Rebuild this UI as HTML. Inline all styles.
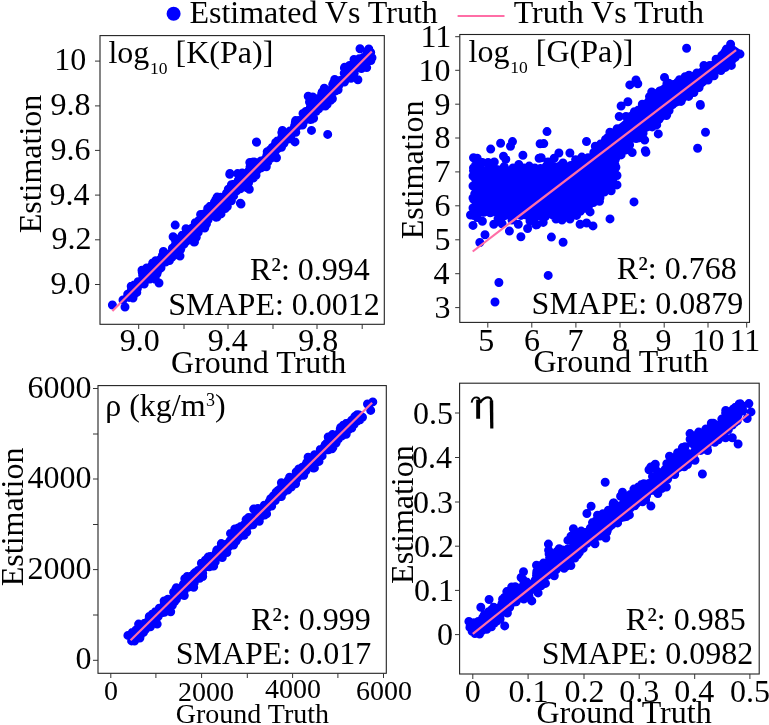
<!DOCTYPE html>
<html><head><meta charset="utf-8"><style>
html,body{margin:0;padding:0;background:#fff;overflow:hidden}
svg{display:block;will-change:transform}
text{font-family:"Liberation Serif", serif;fill:#000}
</style></head><body>
<svg width="769" height="725" viewBox="0 0 769 725">
<defs><clipPath id="ctl"><rect x="100" y="35.6" width="284.3" height="288.7"/></clipPath><clipPath id="ctr"><rect x="459.8" y="34.5" width="289.7" height="287.9"/></clipPath><clipPath id="cbl"><rect x="98" y="385.6" width="288.3" height="287.69999999999993"/></clipPath><clipPath id="cbr"><rect x="459.6" y="383.2" width="299.6" height="290.8"/></clipPath></defs>
<rect width="769" height="725" fill="#fff"/>
<circle cx="173.6" cy="13.8" r="7" fill="#0000ff"/>
<text x="189.45" y="22.60" font-size="32">Estimated Vs Truth</text>
<line x1="457.60" y1="15.90" x2="504.50" y2="15.90" stroke="#ff6ea6" stroke-width="2"/>
<text x="513.70" y="22.90" font-size="32">Truth Vs Truth</text>
<rect x="100.00" y="35.60" width="284.30" height="288.70" fill="none" stroke="#222" stroke-width="1.1"/>
<line x1="138.70" y1="324.30" x2="138.70" y2="329.00" stroke="#333" stroke-width="1"/>
<line x1="184.00" y1="324.30" x2="184.00" y2="329.00" stroke="#333" stroke-width="1"/>
<line x1="228.00" y1="324.30" x2="228.00" y2="329.00" stroke="#333" stroke-width="1"/>
<line x1="273.00" y1="324.30" x2="273.00" y2="329.00" stroke="#333" stroke-width="1"/>
<line x1="317.00" y1="324.30" x2="317.00" y2="329.00" stroke="#333" stroke-width="1"/>
<line x1="362.20" y1="324.30" x2="362.20" y2="329.00" stroke="#333" stroke-width="1"/>
<line x1="95.00" y1="61.10" x2="100.00" y2="61.10" stroke="#333" stroke-width="1"/>
<line x1="95.00" y1="105.90" x2="100.00" y2="105.90" stroke="#333" stroke-width="1"/>
<line x1="95.00" y1="150.40" x2="100.00" y2="150.40" stroke="#333" stroke-width="1"/>
<line x1="95.00" y1="195.10" x2="100.00" y2="195.10" stroke="#333" stroke-width="1"/>
<line x1="95.00" y1="239.80" x2="100.00" y2="239.80" stroke="#333" stroke-width="1"/>
<line x1="95.00" y1="284.50" x2="100.00" y2="284.50" stroke="#333" stroke-width="1"/>
<text x="54.30" y="70.00" font-size="32">10</text>
<text x="50.40" y="115.40" font-size="32">9.8</text>
<text x="50.40" y="159.90" font-size="32">9.6</text>
<text x="49.40" y="204.60" font-size="32">9.4</text>
<text x="51.40" y="249.30" font-size="32">9.2</text>
<text x="50.40" y="294.00" font-size="32">9.0</text>
<text x="119.65" y="351.00" font-size="32">9.0</text>
<text x="207.80" y="351.00" font-size="32">9.4</text>
<text x="298.30" y="351.00" font-size="32">9.8</text>
<text x="171.10" y="372.70" font-size="32">Ground Truth</text>
<text x="0" y="0" font-size="32" transform="translate(40.90,233.35) rotate(-90)">Estimation</text>
<rect x="459.80" y="34.50" width="289.70" height="287.90" fill="none" stroke="#222" stroke-width="1.1"/>
<line x1="487.80" y1="322.40" x2="487.80" y2="327.60" stroke="#333" stroke-width="1"/>
<line x1="531.80" y1="322.40" x2="531.80" y2="327.60" stroke="#333" stroke-width="1"/>
<line x1="575.90" y1="322.40" x2="575.90" y2="327.60" stroke="#333" stroke-width="1"/>
<line x1="620.00" y1="322.40" x2="620.00" y2="327.60" stroke="#333" stroke-width="1"/>
<line x1="664.20" y1="322.40" x2="664.20" y2="327.60" stroke="#333" stroke-width="1"/>
<line x1="708.00" y1="322.40" x2="708.00" y2="327.60" stroke="#333" stroke-width="1"/>
<line x1="746.70" y1="322.40" x2="746.70" y2="327.60" stroke="#333" stroke-width="1"/>
<line x1="455.20" y1="36.70" x2="459.80" y2="36.70" stroke="#333" stroke-width="1"/>
<line x1="455.20" y1="70.30" x2="459.80" y2="70.30" stroke="#333" stroke-width="1"/>
<line x1="455.20" y1="104.20" x2="459.80" y2="104.20" stroke="#333" stroke-width="1"/>
<line x1="455.20" y1="138.00" x2="459.80" y2="138.00" stroke="#333" stroke-width="1"/>
<line x1="455.20" y1="171.90" x2="459.80" y2="171.90" stroke="#333" stroke-width="1"/>
<line x1="455.20" y1="205.80" x2="459.80" y2="205.80" stroke="#333" stroke-width="1"/>
<line x1="455.20" y1="239.80" x2="459.80" y2="239.80" stroke="#333" stroke-width="1"/>
<line x1="455.20" y1="273.70" x2="459.80" y2="273.70" stroke="#333" stroke-width="1"/>
<line x1="455.20" y1="307.60" x2="459.80" y2="307.60" stroke="#333" stroke-width="1"/>
<text x="420.50" y="47.10" font-size="32">11</text>
<text x="418.50" y="80.70" font-size="32">10</text>
<text x="434.50" y="114.60" font-size="32">9</text>
<text x="434.50" y="148.40" font-size="32">8</text>
<text x="434.50" y="182.30" font-size="32">7</text>
<text x="434.50" y="216.20" font-size="32">6</text>
<text x="434.50" y="250.20" font-size="32">5</text>
<text x="433.50" y="284.10" font-size="32">4</text>
<text x="434.50" y="318.00" font-size="32">3</text>
<text x="478.30" y="351.00" font-size="32">5</text>
<text x="523.90" y="351.00" font-size="32">6</text>
<text x="567.40" y="351.00" font-size="32">7</text>
<text x="612.00" y="351.00" font-size="32">8</text>
<text x="655.50" y="351.00" font-size="32">9</text>
<text x="692.50" y="351.00" font-size="32">10</text>
<text x="729.50" y="351.00" font-size="32">11</text>
<text x="533.45" y="372.20" font-size="32">Ground Truth</text>
<text x="0" y="0" font-size="32" transform="translate(422.60,239.25) rotate(-90)">Estimation</text>
<rect x="98.00" y="385.60" width="288.30" height="287.70" fill="none" stroke="#222" stroke-width="1.1"/>
<line x1="110.80" y1="673.30" x2="110.80" y2="678.00" stroke="#333" stroke-width="1"/>
<line x1="155.90" y1="673.30" x2="155.90" y2="678.00" stroke="#333" stroke-width="1"/>
<line x1="201.60" y1="673.30" x2="201.60" y2="678.00" stroke="#333" stroke-width="1"/>
<line x1="247.30" y1="673.30" x2="247.30" y2="678.00" stroke="#333" stroke-width="1"/>
<line x1="292.60" y1="673.30" x2="292.60" y2="678.00" stroke="#333" stroke-width="1"/>
<line x1="337.90" y1="673.30" x2="337.90" y2="678.00" stroke="#333" stroke-width="1"/>
<line x1="383.50" y1="673.30" x2="383.50" y2="678.00" stroke="#333" stroke-width="1"/>
<line x1="93.00" y1="388.50" x2="98.00" y2="388.50" stroke="#333" stroke-width="1"/>
<line x1="93.00" y1="434.00" x2="98.00" y2="434.00" stroke="#333" stroke-width="1"/>
<line x1="93.00" y1="479.00" x2="98.00" y2="479.00" stroke="#333" stroke-width="1"/>
<line x1="93.00" y1="524.50" x2="98.00" y2="524.50" stroke="#333" stroke-width="1"/>
<line x1="93.00" y1="569.60" x2="98.00" y2="569.60" stroke="#333" stroke-width="1"/>
<line x1="93.00" y1="615.00" x2="98.00" y2="615.00" stroke="#333" stroke-width="1"/>
<line x1="93.00" y1="660.30" x2="98.00" y2="660.30" stroke="#333" stroke-width="1"/>
<text x="27.40" y="397.50" font-size="32">6000</text>
<text x="27.40" y="488.00" font-size="32">4000</text>
<text x="27.40" y="578.60" font-size="32">2000</text>
<text x="75.40" y="669.30" font-size="32">0</text>
<text x="104.00" y="699.80" font-size="28">0</text>
<text x="177.90" y="701.00" font-size="28">2000</text>
<text x="265.00" y="698.30" font-size="28">4000</text>
<text x="356.00" y="699.80" font-size="28">6000</text>
<text x="175.75" y="723.00" font-size="28">Ground Truth</text>
<text x="0" y="0" font-size="32" transform="translate(23.40,586.25) rotate(-90)">Estimation</text>
<rect x="459.60" y="383.20" width="299.60" height="290.80" fill="none" stroke="#222" stroke-width="1.1"/>
<line x1="472.80" y1="674.00" x2="472.80" y2="679.00" stroke="#333" stroke-width="1"/>
<line x1="528.10" y1="674.00" x2="528.10" y2="679.00" stroke="#333" stroke-width="1"/>
<line x1="584.00" y1="674.00" x2="584.00" y2="679.00" stroke="#333" stroke-width="1"/>
<line x1="639.20" y1="674.00" x2="639.20" y2="679.00" stroke="#333" stroke-width="1"/>
<line x1="694.70" y1="674.00" x2="694.70" y2="679.00" stroke="#333" stroke-width="1"/>
<line x1="749.90" y1="674.00" x2="749.90" y2="679.00" stroke="#333" stroke-width="1"/>
<line x1="455.00" y1="413.00" x2="459.60" y2="413.00" stroke="#333" stroke-width="1"/>
<line x1="455.00" y1="457.50" x2="459.60" y2="457.50" stroke="#333" stroke-width="1"/>
<line x1="455.00" y1="502.00" x2="459.60" y2="502.00" stroke="#333" stroke-width="1"/>
<line x1="455.00" y1="546.20" x2="459.60" y2="546.20" stroke="#333" stroke-width="1"/>
<line x1="455.00" y1="590.40" x2="459.60" y2="590.40" stroke="#333" stroke-width="1"/>
<line x1="455.00" y1="634.60" x2="459.60" y2="634.60" stroke="#333" stroke-width="1"/>
<text x="413.00" y="423.50" font-size="32">0.5</text>
<text x="412.00" y="468.00" font-size="32">0.4</text>
<text x="413.00" y="512.50" font-size="32">0.3</text>
<text x="414.00" y="556.70" font-size="32">0.2</text>
<text x="414.00" y="600.90" font-size="32">0.1</text>
<text x="437.00" y="645.10" font-size="32">0</text>
<text x="464.80" y="701.50" font-size="32">0</text>
<text x="508.60" y="701.50" font-size="32">0.1</text>
<text x="564.50" y="701.50" font-size="32">0.2</text>
<text x="619.20" y="701.50" font-size="32">0.3</text>
<text x="674.20" y="701.50" font-size="32">0.4</text>
<text x="729.90" y="701.50" font-size="32">0.5</text>
<text x="536.50" y="722.90" font-size="32">Ground Truth</text>
<text x="0" y="0" font-size="32" transform="translate(413.10,583.90) rotate(-90)">Estimation</text>
<g clip-path="url(#ctr)"><path d="M474.0,214.0 L474.0,200.0 L474.0,188.0 L474.0,178.0 L474.0,170.0 L490.0,170.0 L505.0,171.0 L520.0,171.0 L535.0,169.0 L550.0,167.0 L565.0,166.0 L580.0,163.0 L590.0,157.0 L598.7,148.0 L604.9,140.0 L609.9,133.0 L617.3,128.0 L624.8,122.1 L627.9,115.3 L639.7,108.5 L652.1,93.6 L659.5,89.2 L669.5,82.4 L675.7,81.8 L689.9,74.7 L696.5,73.1 L704.2,67.0 L716.3,60.9 L724.1,48.8 L731.2,46.0 L738.4,51.0 L736.2,58.2 L730.7,66.4 L720.8,69.2 L714.1,74.7 L703.1,84.7 L693.2,91.8 L681.0,99.0 L681.9,102.3 L673.2,106.0 L666.4,115.3 L651.5,127.7 L644.0,130.8 L637.2,135.8 L633.5,139.5 L624.8,149.4 L617.0,160.0 L614.0,175.0 L610.0,186.0 L600.0,197.0 L590.0,206.0 L580.0,212.0 L565.0,214.0 L550.0,215.0 L535.0,216.0 L520.0,216.0 L505.0,215.0 L490.0,214.0 Z" fill="#0000ff" stroke="#0000ff" stroke-width="4" stroke-linejoin="round"/></g>
<g clip-path="url(#ctl)"><path d="M243.8 176.8h0M354.0 59.4h0M155.4 279.2h0M356.9 63.3h0M193.7 230.5h0M220.6 199.5h0M325.3 94.4h0M218.4 204.7h0M257.1 170.5h0M310.8 118.4h0M256.0 175.3h0M195.3 222.8h0M317.4 106.8h0M192.2 233.5h0M230.6 193.9h0M150.0 279.1h0M216.3 205.7h0M162.4 255.4h0M178.0 240.5h0M310.4 119.6h0M182.2 235.3h0M239.9 186.7h0M370.9 60.6h0M364.5 64.1h0M302.5 125.0h0M252.8 170.6h0M186.4 241.3h0M157.3 272.5h0M364.6 59.9h0M242.2 173.0h0M275.6 150.7h0M312.9 108.5h0M271.2 151.8h0M344.7 67.3h0M253.5 177.9h0M229.2 189.5h0M281.5 147.3h0M334.8 91.0h0M266.4 157.3h0M173.1 236.7h0M331.9 94.7h0M248.6 182.8h0M242.2 175.7h0M309.5 117.4h0M151.3 273.1h0M325.1 98.4h0M289.4 133.5h0M316.9 107.1h0M161.5 260.7h0M319.7 102.0h0M160.2 259.5h0M134.5 290.7h0M335.8 90.7h0M338.1 89.8h0M338.5 82.3h0M234.9 188.6h0M182.3 238.7h0M278.8 142.3h0M295.6 120.6h0M328.7 93.7h0M183.9 236.3h0M170.8 257.7h0M280.5 147.4h0M321.9 102.7h0M365.0 63.5h0M150.0 270.5h0M240.3 188.7h0M344.3 78.7h0M227.3 206.5h0M267.7 160.4h0M287.8 137.0h0M351.4 73.0h0M330.7 100.2h0M341.9 81.0h0M281.6 137.6h0M174.7 245.9h0M313.2 113.0h0M168.6 257.3h0M330.5 97.8h0M325.2 95.5h0M152.0 265.3h0M210.8 214.8h0M198.2 232.4h0M291.3 131.2h0M157.2 263.2h0M221.0 213.9h0M180.2 242.6h0M217.1 197.1h0M138.1 281.8h0M275.5 145.5h0M210.2 211.4h0M298.3 120.5h0M284.0 143.3h0M226.1 200.9h0M336.5 85.1h0M277.8 148.4h0M322.0 100.2h0M205.1 226.4h0M251.8 168.3h0M161.5 258.3h0M370.7 52.4h0M175.1 247.5h0M175.6 240.9h0M181.6 246.4h0M312.3 114.9h0M295.8 132.2h0M146.7 278.5h0M212.1 215.5h0M221.5 201.7h0M286.3 139.8h0M233.7 195.8h0M267.8 162.1h0M327.6 90.5h0M301.0 122.6h0M207.6 216.8h0M228.7 194.6h0M208.0 215.8h0M163.5 256.7h0M184.8 236.2h0M195.1 230.7h0M195.4 231.5h0M264.3 163.7h0M367.1 61.5h0M310.4 107.0h0M319.6 107.6h0M313.6 118.3h0M269.0 157.9h0M352.1 74.5h0M290.6 131.3h0M244.1 183.0h0M131.3 289.9h0M238.3 183.4h0M164.9 253.1h0M142.2 272.0h0M237.6 173.6h0M313.2 104.4h0M191.4 236.9h0M312.7 112.4h0M248.2 174.1h0M146.7 267.9h0M361.3 59.2h0M214.0 204.2h0M189.4 234.8h0M330.9 90.0h0M143.2 277.2h0M303.7 121.6h0M159.5 260.6h0M211.9 206.9h0M172.9 251.2h0M328.5 90.5h0M210.1 206.3h0M365.1 57.9h0M274.6 148.7h0M293.0 131.7h0M249.0 177.0h0M192.2 230.5h0M215.9 209.2h0M357.1 67.5h0M166.2 260.4h0M372.0 57.8h0M311.1 116.2h0M205.0 216.9h0M281.3 147.0h0M212.6 213.5h0M207.9 208.5h0M240.7 177.9h0M241.9 184.4h0M363.2 57.6h0M187.8 238.3h0M303.0 113.4h0M228.5 197.3h0M166.5 256.5h0M344.2 73.2h0M192.9 234.0h0M368.8 49.0h0M182.1 244.7h0M332.1 90.2h0M270.1 154.5h0M321.7 102.0h0M275.6 147.1h0M206.6 217.0h0M311.9 115.7h0M226.5 193.2h0M207.3 213.0h0M233.4 184.5h0M142.6 274.9h0M173.0 256.1h0M255.5 162.4h0M210.2 207.6h0M318.9 106.7h0M267.2 151.8h0M332.7 84.4h0M303.5 122.1h0M271.4 157.8h0M187.8 237.1h0M309.5 102.0h0M177.1 245.3h0M134.5 294.1h0M362.7 61.7h0M254.6 173.0h0M314.0 111.0h0M249.5 173.5h0M276.5 157.7h0M160.1 261.8h0M284.4 132.9h0M260.8 163.4h0M154.3 270.7h0M357.0 61.6h0M155.1 273.6h0M247.4 181.2h0M152.7 276.6h0M298.8 125.2h0M183.2 238.5h0M147.4 276.4h0M156.6 264.5h0M160.4 259.5h0M250.6 170.6h0M231.1 195.7h0M361.3 63.2h0M357.3 60.8h0M321.2 106.5h0M287.1 137.3h0M332.5 92.6h0M356.3 67.8h0M208.1 219.8h0M270.8 158.3h0M174.5 238.0h0M179.0 240.4h0M188.7 237.7h0M304.7 118.8h0M279.7 140.7h0M270.5 154.3h0M222.5 198.2h0M291.4 134.5h0M153.7 271.2h0M212.6 211.1h0M169.5 255.8h0M225.2 208.6h0M232.5 190.7h0M341.3 80.9h0M193.5 227.8h0M328.8 98.7h0M127.7 294.2h0M361.8 60.6h0M311.6 119.3h0M204.7 228.0h0M145.7 275.7h0M214.7 212.7h0M198.3 220.9h0M334.7 79.5h0M222.3 203.6h0M135.1 291.2h0M352.8 70.5h0M272.4 148.1h0M144.2 284.0h0M230.6 187.4h0M134.2 285.0h0M274.9 145.7h0M273.4 152.2h0M319.9 99.5h0M314.7 105.0h0M352.4 76.0h0M281.8 132.6h0M292.8 131.8h0M154.1 267.7h0M130.5 295.1h0M361.8 59.9h0M277.4 141.0h0M359.7 67.0h0M206.5 223.8h0M309.3 116.0h0M158.3 270.6h0M185.9 240.7h0M255.4 168.5h0M257.1 166.5h0M239.1 178.8h0M224.7 203.0h0M261.0 160.9h0M364.2 61.2h0M228.3 189.2h0M324.3 88.3h0M211.8 210.3h0M254.2 162.0h0M274.4 151.2h0M180.6 249.5h0M218.7 210.1h0M361.4 68.6h0M282.7 144.6h0M264.6 159.7h0M164.8 253.7h0M146.7 273.8h0M366.6 54.7h0M208.2 217.0h0M129.1 297.4h0M278.3 144.8h0M129.9 293.0h0M132.6 289.7h0M182.1 239.7h0M262.2 161.7h0M325.4 106.1h0M184.1 244.0h0M187.6 239.3h0M322.7 93.4h0M306.8 118.3h0M143.9 276.7h0M318.5 98.6h0M327.3 94.6h0M159.4 265.7h0M275.7 148.9h0M165.6 262.1h0M174.9 247.2h0M238.2 180.4h0M246.7 174.3h0M235.0 185.1h0M251.2 169.1h0M163.4 251.4h0M315.7 110.3h0M184.1 238.6h0M347.7 72.7h0M243.4 174.7h0M196.3 237.3h0M158.7 266.9h0M238.7 185.5h0M212.2 215.5h0M272.2 147.5h0M241.2 181.2h0M329.3 95.7h0M330.5 99.7h0M326.0 102.9h0M354.2 73.3h0M283.8 137.6h0M156.7 271.9h0M231.4 200.7h0M229.5 200.0h0M277.7 148.2h0M207.7 208.5h0M282.4 130.4h0M166.3 259.1h0M202.1 217.3h0M250.4 167.0h0M220.6 197.3h0M144.4 279.5h0M365.7 63.1h0M292.8 132.6h0M332.4 98.8h0M204.6 217.7h0M355.9 64.2h0M327.2 104.2h0M366.6 56.9h0M163.0 259.2h0M233.5 184.5h0M209.6 207.9h0M269.9 150.0h0M178.8 247.5h0M236.8 188.1h0M275.7 142.5h0M213.3 212.6h0M368.6 54.8h0M214.4 202.3h0M189.9 232.9h0M326.4 102.7h0M234.1 190.5h0M181.9 238.7h0M187.1 237.1h0M355.6 62.8h0M359.2 58.7h0M281.4 144.7h0M185.8 239.7h0M297.2 126.6h0M171.2 257.3h0M195.1 226.6h0M253.3 170.8h0M214.8 205.2h0M204.7 221.2h0M367.0 60.1h0M152.7 262.9h0M273.5 153.6h0M137.4 288.4h0M168.4 258.1h0M370.3 54.3h0M302.8 124.4h0M337.7 85.8h0M290.7 135.7h0M227.4 197.7h0M219.6 202.2h0M294.6 125.7h0M191.4 230.0h0M247.2 179.3h0M179.2 242.5h0M214.2 209.7h0M251.0 172.8h0M157.0 273.7h0M182.6 237.9h0M221.7 202.2h0M231.4 184.7h0M318.6 102.0h0M281.6 146.5h0M261.2 167.9h0M335.6 82.8h0M165.4 261.6h0M213.1 207.4h0M148.6 276.0h0M252.2 162.3h0M261.0 162.0h0M143.3 273.6h0M295.3 122.4h0M257.7 167.6h0M222.9 201.9h0M347.2 69.8h0M334.4 88.9h0M171.5 255.5h0M153.0 265.2h0M344.4 67.9h0M153.2 270.2h0M305.8 111.5h0M193.8 230.2h0M203.2 214.3h0M256.5 167.8h0M349.7 67.8h0M153.3 267.7h0M299.5 124.4h0M214.1 208.1h0M188.1 237.4h0M364.5 63.4h0M183.0 244.6h0M297.7 125.7h0M364.7 62.9h0M309.2 112.0h0M295.2 125.7h0M298.9 122.2h0M322.2 103.0h0M182.5 240.4h0M274.9 148.3h0M317.7 99.7h0M344.4 82.1h0M348.0 76.6h0M347.2 76.8h0M210.2 213.5h0M232.2 194.0h0M344.9 80.8h0M218.9 199.9h0M182.3 243.5h0M185.2 234.0h0M310.5 103.9h0M152.3 265.3h0M196.8 234.0h0M248.6 171.2h0M205.4 215.6h0M340.1 80.6h0M169.5 260.5h0M256.3 163.5h0M316.3 111.3h0M350.6 66.9h0M336.6 81.9h0M142.0 270.3h0M318.5 106.2h0M290.7 138.8h0M219.4 199.2h0M154.0 265.4h0M307.5 117.2h0M131.2 286.2h0M191.9 228.3h0M181.2 247.4h0M306.6 118.0h0M206.4 218.6h0M135.1 288.5h0M208.0 214.3h0M198.5 227.5h0M298.7 125.2h0M194.1 226.5h0M292.4 131.0h0M252.6 171.7h0M343.2 81.2h0M302.7 120.8h0M222.2 209.1h0M237.7 184.7h0M236.7 190.7h0M338.2 84.4h0M151.2 278.2h0M220.4 198.8h0M250.5 171.6h0M228.3 200.5h0M266.9 155.2h0M243.3 183.0h0M215.8 199.7h0M289.4 131.6h0M199.4 227.1h0M269.2 152.9h0M301.3 121.9h0M143.6 274.4h0M196.2 225.4h0M356.2 64.6h0M365.2 62.6h0M368.0 51.7h0M322.2 91.9h0M353.5 66.8h0M346.3 76.9h0M297.4 125.0h0M289.5 137.6h0M298.5 123.7h0M263.7 164.0h0M316.7 106.2h0M243.3 181.4h0M172.6 254.0h0M135.5 285.1h0M351.0 78.3h0M308.2 115.0h0M161.0 267.7h0M321.7 93.5h0M186.0 228.7h0M275.3 144.1h0M200.6 214.4h0M166.5 254.0h0M156.7 264.1h0M131.6 293.3h0M132.1 294.8h0M328.3 94.2h0M247.7 177.6h0M146.5 278.4h0M246.9 173.1h0M253.3 170.3h0M244.4 185.3h0M166.3 257.7h0M226.6 199.8h0M338.8 85.5h0M214.1 213.6h0M240.4 177.5h0M349.5 65.4h0M175.0 252.8h0M299.1 121.2h0M236.5 184.0h0M318.8 108.8h0M205.3 217.3h0M250.0 167.1h0M206.0 213.5h0M333.5 82.7h0M352.1 76.0h0M277.7 148.5h0M366.1 55.7h0M301.4 120.2h0M327.6 95.3h0M345.2 79.5h0M183.7 241.2h0M369.5 56.1h0M212.6 208.6h0M247.1 187.7h0M155.7 260.7h0M326.5 98.8h0M202.7 226.5h0M290.0 130.9h0M171.9 257.2h0M202.6 218.9h0M212.8 212.0h0M172.4 248.2h0M310.4 109.4h0M356.1 61.5h0M172.0 253.2h0M155.1 269.3h0M202.5 220.7h0M136.8 292.4h0M175.2 225.1h0M229.7 174.2h0M256.6 142.3h0M240.4 203.2h0M249.3 189.3h0M216.2 217.2h0M194.5 242.1h0M159.0 283.0h0M133.0 298.0h0M125.0 307.0h0M123.0 300.0h0M112.4 305.0h0M180.0 256.0h0M194.0 242.0h0M217.0 217.0h0M241.0 204.0h0M360.0 48.8h0M366.7 67.6h0M357.9 79.7h0M308.2 96.3h0M312.7 96.9h0M311.5 130.4h0M327.7 134.4h0M256.4 141.9h0M249.8 162.4h0M229.9 173.5h0M295.0 141.9h0M266.3 166.8h0" stroke="#0000ff" stroke-width="9" stroke-linecap="round" fill="none"/></g>
<g clip-path="url(#ctr)"><path d="M490.7 149.1h0M500.6 143.2h0M512.5 141.6h0M510.5 146.3h0M522.9 155.2h0M540.1 143.7h0M547.0 131.6h0M543.8 143.6h0M586.5 141.5h0M619.2 116.5h0M621.1 106.0h0M627.9 101.7h0M629.8 84.9h0M636.0 79.9h0M637.8 83.7h0M664.5 77.4h0M686.6 48.2h0M700.3 104.5h0M645.3 150.7h0M658.3 133.9h0M644.7 140.1h0M632.2 152.5h0M485.0 234.7h0M479.8 242.5h0M509.4 231.1h0M520.9 236.8h0M551.4 237.1h0M563.1 242.3h0M610.0 218.9h0M593.0 225.9h0M498.9 282.5h0M495.0 302.0h0M548.2 275.4h0M634.0 201.9h0M697.6 148.2h0M705.5 132.3h0M700.4 105.3h0M645.9 152.2h0M665.8 114.5h0M666.4 115.5h0M475.6 165.0h0M535.9 224.9h0M617.0 184.9h0M617.0 175.5h0M615.9 167.3h0M595.3 146.2h0M600.5 144.1h0M607.8 137.4h0M474.0 215.6h0M475.5 206.4h0M473.6 199.4h0M474.7 193.9h0M474.9 185.8h0M475.9 182.9h0M474.8 177.8h0M473.5 170.6h0M480.3 169.8h0M484.5 170.8h0M489.0 168.2h0M495.5 169.5h0M497.7 169.7h0M504.4 169.6h0M508.2 171.0h0M516.1 170.7h0M519.1 171.5h0M525.9 170.0h0M530.7 170.9h0M534.8 168.0h0M540.4 168.6h0M546.3 166.1h0M549.2 166.0h0M552.9 166.8h0M560.6 165.4h0M566.7 167.0h0M570.8 165.5h0M576.1 162.4h0M580.7 163.7h0M582.9 160.4h0M589.7 157.9h0M593.8 152.5h0M599.1 146.9h0M602.5 143.9h0M605.5 139.4h0M611.2 133.7h0M617.1 128.8h0M626.3 124.2h0M626.0 116.4h0M634.4 111.8h0M638.5 110.0h0M642.3 104.2h0M649.5 96.6h0M651.7 92.0h0M659.8 91.0h0M666.9 83.7h0M668.8 83.2h0M677.6 82.3h0M679.5 79.8h0M685.1 76.8h0M689.0 75.2h0M696.9 73.0h0M703.9 65.5h0M709.7 65.4h0M716.1 59.2h0M721.8 55.5h0M726.6 48.9h0M730.6 44.3h0M740.0 54.1h0M735.2 57.4h0M731.4 65.4h0M725.4 67.4h0M721.0 70.5h0M714.1 75.8h0M708.1 80.1h0M700.5 83.0h0M699.1 87.5h0M693.9 92.5h0M688.7 96.4h0M682.2 98.9h0M681.1 101.4h0M672.6 104.6h0M669.1 110.5h0M666.7 114.9h0M659.1 119.3h0M656.7 124.9h0M652.2 126.9h0M643.1 133.2h0M638.1 138.0h0M636.1 138.5h0M629.6 145.0h0M625.5 150.1h0M621.1 154.9h0M615.2 159.8h0M615.1 165.2h0M614.4 170.7h0M615.0 175.4h0M612.4 180.6h0M609.5 185.8h0M604.4 192.0h0M600.0 197.7h0M593.4 202.6h0M589.1 205.1h0M584.8 208.3h0M580.3 211.3h0M573.7 211.7h0M571.6 213.4h0M563.6 214.0h0M558.1 216.5h0M553.2 215.2h0M550.7 213.3h0M545.4 216.5h0M540.6 216.0h0M536.1 216.2h0M530.4 215.8h0M525.8 214.9h0M521.0 215.4h0M513.7 216.1h0M512.0 216.5h0M504.4 215.8h0M499.5 214.5h0M495.1 211.6h0M490.2 212.8h0M483.8 212.2h0M477.5 212.9h0M473.5 157.8h0M477.2 158.3h0M475.6 165.0h0M482.4 162.5h0M488.1 162.5h0M494.3 161.9h0M503.5 156.2h0M505.8 159.3h0M504.2 166.6h0M518.8 164.5h0M529.2 166.1h0M539.1 158.3h0M541.2 157.7h0M554.2 158.2h0M558.9 153.0h0M569.9 153.0h0M575.6 159.7h0M581.8 157.1h0M588.1 157.7h0M595.3 146.2h0M595.3 151.4h0M600.5 144.1h0M607.8 137.4h0M609.9 132.2h0M555.8 167.0h0M573.5 168.1h0M495.4 170.8h0M548.0 162.0h0M563.0 163.0h0M513.0 168.0h0M524.0 168.0h0M473.0 225.4h0M477.2 217.6h0M482.4 221.2h0M485.0 234.7h0M479.8 242.5h0M493.8 224.3h0M502.1 223.8h0M509.4 231.1h0M520.9 236.8h0M518.3 224.3h0M527.6 228.5h0M535.9 224.9h0M536.8 224.8h0M543.2 222.4h0M539.7 213.0h0M551.4 237.1h0M563.1 242.3h0M562.0 220.1h0M580.1 224.2h0M586.6 223.0h0M593.0 225.9h0M590.1 211.9h0M576.6 215.4h0M599.5 201.3h0M611.2 190.8h0M617.0 184.9h0M617.0 175.5h0M615.9 167.3h0M473.0 208.0h0M473.0 198.0h0M473.0 186.0h0M473.0 176.0h0M473.5 168.0h0M470.5 215.0h0M512.0 220.0h0M530.0 221.0h0M556.0 219.0h0M570.0 219.0h0M498.0 219.0h0" stroke="#0000ff" stroke-width="9" stroke-linecap="round" fill="none"/></g>
<g clip-path="url(#cbl)"><path d="M225.9 544.8h0M246.5 523.4h0M301.6 472.7h0M264.3 505.2h0M182.5 590.9h0M239.1 533.7h0M343.3 425.2h0M354.2 424.2h0M148.4 622.7h0M158.3 613.2h0M143.9 627.1h0M247.8 526.3h0M336.5 435.3h0M250.9 525.0h0M209.3 566.8h0M332.9 439.4h0M188.1 587.3h0M256.6 514.8h0M334.6 439.2h0M332.6 443.5h0M161.5 610.7h0M201.0 571.1h0M223.8 546.9h0M309.7 465.9h0M289.2 484.7h0M256.6 520.7h0M217.8 555.1h0M199.7 578.2h0M264.9 508.1h0M316.6 458.5h0M208.1 557.1h0M194.0 573.6h0M133.0 638.2h0M154.4 613.6h0M160.3 610.0h0M232.0 544.0h0M313.4 468.1h0M222.0 546.6h0M163.6 606.4h0M172.4 605.3h0M349.3 423.0h0M272.1 498.0h0M200.0 574.1h0M324.0 447.3h0M351.8 428.1h0M257.0 516.5h0M235.0 537.4h0M218.4 551.2h0M216.4 554.5h0M329.5 443.8h0M293.9 477.8h0M341.9 434.5h0M135.8 630.3h0M161.5 610.9h0M250.3 519.9h0M265.9 507.1h0M230.2 543.0h0M249.0 521.9h0M337.7 435.0h0M258.2 510.3h0M189.3 579.0h0M246.8 527.8h0M198.4 571.9h0M275.8 497.0h0M267.3 508.3h0M295.6 481.4h0M354.8 418.8h0M246.4 528.0h0M141.5 634.0h0M244.9 528.1h0M247.3 524.6h0M312.8 460.7h0M346.5 431.7h0M168.7 604.6h0M332.7 437.0h0M171.6 602.3h0M267.2 506.9h0M127.9 635.4h0M324.9 448.0h0M226.4 547.6h0M183.7 594.3h0M348.3 425.1h0M152.6 623.1h0M211.8 560.5h0M239.5 535.9h0M194.2 583.1h0M210.4 556.4h0M325.4 449.0h0M174.5 594.1h0M257.8 512.7h0M180.7 593.3h0M273.3 499.6h0M188.9 584.1h0M201.8 567.1h0M251.4 520.0h0M189.2 583.7h0M296.2 472.0h0M181.6 588.5h0M323.0 449.5h0M293.5 482.6h0M159.7 610.3h0M252.9 524.7h0M145.1 624.5h0M171.8 602.8h0M202.5 569.0h0M294.3 480.1h0M272.8 499.6h0M252.7 519.0h0M172.7 599.0h0M199.3 572.9h0M291.3 487.0h0M246.8 532.1h0M203.0 565.0h0M145.6 623.7h0M143.6 632.3h0M340.7 427.4h0M227.7 547.1h0M335.6 436.9h0M185.9 584.5h0M266.6 506.2h0M188.5 581.3h0M336.3 442.3h0M182.3 589.6h0M256.9 516.9h0M353.3 420.9h0M299.4 475.1h0M259.5 515.5h0M215.8 558.9h0M251.4 518.6h0M132.9 640.8h0M160.2 610.0h0M194.4 576.4h0M141.6 629.8h0M184.9 585.5h0M226.8 543.9h0M329.4 446.4h0M342.0 431.2h0M132.3 632.5h0M238.4 537.7h0M288.7 485.7h0M305.4 470.8h0M164.1 600.9h0M134.5 641.0h0M188.1 583.7h0M201.6 567.5h0M175.2 599.3h0M181.7 590.5h0M284.4 491.3h0M183.9 592.2h0M174.3 597.6h0M192.3 578.0h0M236.3 537.6h0M176.0 595.1h0M243.8 526.7h0M344.8 425.7h0M322.1 455.9h0M302.9 468.8h0M349.0 427.5h0M346.2 434.3h0M259.4 516.1h0M289.1 482.3h0M211.4 559.8h0M256.5 519.9h0M340.3 428.8h0M247.0 524.5h0M227.9 544.8h0M283.3 491.9h0M237.2 534.1h0M153.2 619.4h0M216.2 552.5h0M161.4 609.0h0M340.6 431.8h0M302.0 472.7h0M234.3 543.0h0M146.1 623.4h0M158.3 616.3h0M191.3 580.9h0M251.5 521.4h0M156.3 617.5h0M212.9 556.5h0M174.7 601.5h0M152.2 614.2h0M159.4 613.9h0M156.9 611.4h0M320.3 449.5h0M173.5 600.8h0M157.5 616.2h0M320.7 450.2h0M351.9 421.9h0M299.8 473.6h0M150.4 626.7h0M164.4 612.3h0M163.3 606.4h0M150.9 615.8h0M242.6 532.4h0M144.9 629.0h0M313.6 459.6h0M224.6 546.3h0M174.7 595.1h0M152.8 619.9h0M265.0 514.3h0M307.7 461.4h0M265.8 508.9h0M183.4 584.3h0M319.0 461.4h0M248.7 523.0h0M266.4 508.3h0M341.7 436.1h0M284.8 485.5h0M155.4 611.7h0M291.7 483.7h0M196.5 573.4h0M314.5 462.8h0M261.3 513.7h0M255.7 518.0h0M163.8 608.8h0M135.8 633.1h0M357.4 421.1h0M136.1 631.8h0M141.0 627.0h0M236.7 536.6h0M348.7 429.5h0M259.3 521.3h0M359.5 415.3h0M296.9 479.0h0M319.7 453.9h0M321.2 456.1h0M348.1 426.3h0M354.2 420.5h0M206.1 565.9h0M293.5 479.1h0M247.4 524.5h0M354.8 416.6h0M268.2 507.4h0M221.7 548.4h0M138.1 632.4h0M299.4 475.6h0M135.1 639.0h0M277.8 490.8h0M191.3 579.8h0M287.2 487.8h0M359.2 415.1h0M211.0 561.2h0M259.9 514.7h0M261.1 516.3h0M167.9 603.1h0M301.0 473.1h0M293.2 481.2h0M306.9 463.7h0M183.6 592.3h0M147.7 626.5h0M221.1 550.7h0M156.3 612.3h0M193.4 576.5h0M133.3 635.3h0M226.9 552.6h0M213.0 557.6h0M205.2 565.6h0M218.4 551.7h0M141.0 632.3h0M230.1 540.8h0M279.8 490.3h0M202.8 564.1h0M260.9 511.3h0M317.7 460.4h0M251.6 521.1h0M343.3 428.9h0M307.5 464.6h0M256.1 510.7h0M150.2 621.6h0M240.3 535.6h0M139.5 633.5h0M349.9 422.4h0M142.5 631.1h0M180.2 594.8h0M174.1 600.1h0M327.3 442.9h0M339.5 433.9h0M298.6 476.1h0M326.1 445.3h0M189.6 580.1h0M338.6 438.7h0M152.6 616.0h0M201.6 569.7h0M332.0 448.7h0M291.8 485.4h0M345.5 428.1h0M325.5 446.9h0M179.7 592.8h0M228.7 546.9h0M358.3 415.5h0M295.6 483.7h0M312.8 459.2h0M149.9 621.7h0M350.6 423.9h0M258.6 516.4h0M164.7 604.1h0M266.6 513.9h0M343.1 434.0h0M255.2 515.8h0M360.7 416.1h0M342.2 427.4h0M244.6 526.8h0M354.8 422.1h0M305.8 464.4h0M189.5 582.6h0M152.3 617.0h0M137.8 635.1h0M251.8 522.9h0M303.5 467.8h0M160.5 610.4h0M178.3 595.7h0M356.5 420.7h0M315.6 456.1h0M202.3 564.0h0M349.3 427.7h0M239.6 530.8h0M193.7 587.3h0M212.3 564.2h0M192.2 577.4h0M288.3 479.9h0M216.7 555.3h0M262.9 508.2h0M273.2 499.0h0M245.3 524.1h0M236.7 539.3h0M210.8 559.3h0M185.1 587.9h0M152.8 619.4h0M291.8 481.6h0M134.5 636.9h0M300.9 475.0h0M304.8 469.5h0M317.9 458.9h0M276.1 492.2h0M349.0 423.0h0M219.4 554.1h0M233.8 533.5h0M195.1 572.6h0M132.1 637.1h0M232.3 541.7h0M245.2 526.6h0M236.6 534.0h0M136.7 629.7h0M167.7 604.2h0M194.4 579.2h0M221.3 543.6h0M175.7 591.4h0M214.0 557.1h0M198.2 576.5h0M154.7 614.8h0M330.8 439.6h0M269.5 501.1h0M356.0 415.7h0M269.6 503.2h0M270.6 498.8h0M215.4 558.6h0M316.9 458.3h0M238.0 536.1h0M321.4 454.4h0M235.2 531.0h0M303.7 475.2h0M282.9 489.5h0M223.6 551.8h0M153.5 621.6h0M184.0 587.3h0M234.6 542.8h0M240.2 532.6h0M176.4 587.7h0M190.9 581.2h0M204.5 566.0h0M258.2 517.3h0M150.4 619.2h0M226.8 550.3h0M287.5 485.2h0M323.6 450.7h0M246.1 519.6h0M349.8 424.8h0M300.8 473.9h0M313.6 461.9h0M163.6 611.5h0M245.9 524.3h0M136.4 629.8h0M285.4 489.2h0M204.4 565.3h0M334.0 441.2h0M160.1 609.9h0M147.0 622.6h0M224.1 552.9h0M168.3 605.6h0M255.9 514.0h0M233.6 545.0h0M135.9 635.0h0M187.3 585.6h0M167.3 607.1h0M171.7 599.7h0M357.6 415.9h0M263.5 507.7h0M314.4 467.9h0M216.8 550.1h0M173.1 600.0h0M206.3 562.4h0M291.3 482.6h0M226.7 547.6h0M133.0 638.1h0M253.6 509.1h0M246.1 521.6h0M288.3 486.2h0M136.7 633.6h0M333.7 436.8h0M236.2 534.6h0M213.7 558.2h0M197.5 575.0h0M328.3 449.2h0M190.5 578.9h0M198.0 570.4h0M332.4 434.6h0M239.8 534.6h0M140.7 628.3h0M158.7 612.7h0M302.4 467.2h0M205.9 566.6h0M201.9 572.3h0M201.4 576.1h0M353.8 418.4h0M242.4 529.8h0M335.4 435.2h0M314.7 460.9h0M308.1 457.3h0M310.9 465.1h0M200.3 570.0h0M320.1 452.5h0M242.1 527.0h0M171.1 601.0h0M190.3 584.5h0M254.3 521.8h0M240.3 529.7h0M358.0 416.2h0M272.9 499.2h0M275.3 500.6h0M142.5 628.2h0M145.8 624.6h0M199.3 570.7h0M236.2 541.1h0M346.1 430.7h0M139.8 625.7h0M298.0 476.8h0M274.0 499.4h0M187.5 585.6h0M344.6 434.6h0M220.2 555.6h0M322.8 450.0h0M194.8 579.3h0M258.0 508.4h0M312.3 466.3h0M332.9 447.5h0M213.8 559.7h0M181.3 594.3h0M279.3 489.6h0M279.0 495.7h0M140.6 628.8h0M271.7 506.1h0M346.9 425.4h0M186.4 583.3h0M273.3 495.9h0M341.7 432.0h0M218.6 552.1h0M319.2 454.2h0M335.9 435.4h0M142.4 630.0h0M197.3 572.9h0M187.7 586.0h0M339.0 433.0h0M269.6 504.5h0M160.1 613.4h0M219.7 554.8h0M191.0 576.2h0M362.5 417.2h0M336.0 443.0h0M325.8 446.2h0M157.4 617.2h0M219.4 554.5h0M233.2 541.0h0M201.4 563.3h0M336.1 440.4h0M236.8 538.2h0M307.6 467.5h0M264.6 507.8h0M222.7 548.1h0M153.4 622.6h0M327.4 445.3h0M238.3 528.0h0M150.3 626.7h0M239.9 531.0h0M139.7 628.8h0M203.8 567.8h0M337.9 437.0h0M213.7 566.1h0M205.3 562.9h0M201.2 571.9h0M262.4 511.3h0M243.7 525.1h0M222.3 557.6h0M327.2 447.1h0M237.6 533.1h0M322.6 449.1h0M222.7 547.7h0M208.4 557.2h0M170.8 599.9h0M144.6 623.3h0M261.2 509.3h0M215.2 561.9h0M165.5 608.4h0M248.7 517.4h0M296.6 477.9h0M276.0 497.5h0M137.1 638.1h0M216.6 556.8h0M287.7 490.0h0M222.9 551.5h0M231.1 539.7h0M313.9 462.6h0M167.2 606.3h0M167.9 599.3h0M306.9 465.4h0M342.0 430.7h0M166.9 601.4h0M144.9 628.0h0M319.6 455.6h0M264.7 515.0h0M185.7 583.7h0M141.7 630.0h0M257.5 515.4h0M167.7 607.3h0M337.2 435.0h0M338.4 433.9h0M300.0 473.1h0M360.0 419.7h0M202.4 572.4h0M158.0 613.5h0M280.3 495.7h0M186.3 584.2h0M289.4 480.8h0M148.7 624.9h0M209.9 562.9h0M283.4 492.2h0M345.0 426.0h0M148.9 619.4h0M230.5 533.4h0M348.8 425.6h0M144.5 629.6h0M235.0 536.3h0M303.4 471.0h0M240.9 531.1h0M325.2 444.8h0M224.0 549.3h0M200.0 569.7h0M139.9 638.0h0M242.4 526.9h0M356.4 417.7h0M341.7 433.4h0M131.6 640.9h0M135.7 630.7h0M144.9 627.8h0M326.7 443.3h0M215.4 558.5h0M194.2 577.6h0M301.3 471.2h0M205.3 560.3h0M218.5 553.0h0M291.1 481.6h0M336.6 437.8h0M172.0 600.5h0M178.5 595.1h0M173.6 592.2h0M346.0 423.6h0M260.7 514.4h0M319.6 453.8h0M176.2 599.2h0M328.3 442.7h0M198.3 571.5h0M273.4 499.4h0M181.8 592.5h0M247.6 522.7h0M303.3 468.3h0M171.6 600.5h0M351.7 420.3h0M328.5 449.8h0M293.8 481.6h0M305.9 470.8h0M195.9 575.6h0M149.3 616.5h0M205.5 566.4h0M159.3 608.3h0M207.8 564.4h0M308.2 466.8h0M168.5 599.7h0M146.8 622.6h0M314.6 454.7h0M344.1 427.1h0M226.5 548.5h0M184.3 595.6h0M334.5 439.2h0M145.6 629.3h0M212.9 563.9h0M318.7 460.0h0M300.3 475.4h0M306.6 467.7h0M241.5 531.2h0M289.6 477.2h0M202.7 573.3h0M330.2 443.9h0M314.3 463.5h0M349.5 428.1h0M307.0 466.5h0M297.9 474.3h0M176.4 599.4h0M260.0 509.2h0M149.6 624.6h0M340.6 430.6h0M314.7 459.3h0M252.5 517.5h0M321.8 450.4h0M331.4 443.6h0M212.3 558.4h0M288.0 489.8h0M163.1 612.5h0M142.6 629.7h0M306.8 462.5h0M182.1 592.1h0M225.0 549.3h0M240.8 526.5h0M348.4 425.9h0M310.0 463.8h0M258.9 517.5h0M317.0 456.7h0M187.1 582.8h0M150.5 620.9h0M188.2 581.2h0M267.5 504.6h0M206.4 562.3h0M357.2 414.7h0M258.2 515.2h0M260.3 509.9h0M298.8 469.0h0M248.9 522.9h0M172.6 602.9h0M176.7 594.3h0M235.6 537.7h0M184.8 578.7h0M157.2 624.1h0M170.7 611.7h0M202.7 576.5h0M213.0 562.0h0M234.8 542.4h0M244.1 535.2h0M234.8 529.0h0M138.6 624.1h0M175.8 588.9h0M187.2 576.5h0M372.8 401.9h0M370.7 410.4h0M367.5 404.0h0M281.4 482.7h0M328.2 437.0h0M281.4 496.5h0M254.9 509.3h0M264.4 513.5h0" stroke="#0000ff" stroke-width="9" stroke-linecap="round" fill="none"/></g>
<g clip-path="url(#cbr)"><path d="M727.0 415.3h0M571.2 550.0h0M682.0 458.3h0M742.7 410.9h0M537.8 577.5h0M626.4 516.6h0M714.8 442.2h0M508.4 600.3h0M496.9 621.1h0M641.6 484.4h0M630.9 496.1h0M722.0 433.4h0M657.9 493.5h0M725.6 437.8h0M613.0 514.3h0M642.7 492.6h0M692.0 443.0h0M582.7 538.3h0M577.7 535.7h0M659.6 472.5h0M490.7 622.0h0M598.2 529.7h0M514.7 601.9h0M599.6 529.3h0M476.8 631.2h0M486.4 621.9h0M613.7 507.1h0M556.5 566.0h0M667.7 479.1h0M626.1 509.7h0M605.6 525.4h0M707.3 442.3h0M485.8 622.1h0M727.6 424.0h0M492.1 610.2h0M482.8 619.1h0M735.5 419.2h0M513.4 593.0h0M593.4 523.7h0M571.0 550.8h0M547.3 575.2h0M610.0 516.0h0M711.9 435.1h0M586.3 536.1h0M646.6 495.6h0M725.7 410.5h0M594.8 532.4h0M558.8 557.6h0M605.2 526.4h0M688.4 453.4h0M666.4 487.1h0M737.3 420.8h0M570.9 565.6h0M723.6 418.7h0M579.4 552.2h0M479.6 634.0h0M643.8 483.7h0M728.3 423.6h0M537.1 579.5h0M713.3 426.8h0M699.2 442.1h0M557.6 559.7h0M683.3 454.4h0M565.9 566.5h0M638.4 487.0h0M603.8 515.3h0M523.1 579.7h0M595.0 543.8h0M583.3 545.7h0M494.8 616.5h0M705.9 428.9h0M550.5 564.0h0M554.2 553.6h0M729.8 416.6h0M581.8 545.6h0M583.2 548.4h0M702.5 445.9h0M561.6 549.8h0M733.3 421.4h0M606.7 532.4h0M573.8 546.5h0M554.4 555.9h0M549.1 553.9h0M733.3 409.0h0M601.5 519.4h0M494.5 623.0h0M493.9 616.2h0M685.1 459.3h0M715.9 430.2h0M735.3 420.1h0M489.4 613.8h0M536.8 571.4h0M697.2 446.1h0M696.7 449.0h0M695.6 447.0h0M517.6 592.6h0M677.2 458.4h0M675.9 469.9h0M713.5 424.2h0M593.0 532.3h0M649.0 487.7h0M524.6 584.9h0M676.6 468.3h0M474.3 626.2h0M698.7 432.1h0M653.8 479.8h0M556.5 561.2h0M527.4 589.2h0M595.7 521.0h0M670.3 462.0h0M728.4 429.6h0M731.1 412.5h0M621.0 513.9h0M556.1 569.9h0M505.9 604.8h0M672.1 471.9h0M630.4 494.4h0M534.9 587.6h0M621.5 517.5h0M581.6 547.8h0M688.5 455.1h0M493.2 611.8h0M526.8 593.2h0M522.7 594.5h0M607.3 530.8h0M561.8 559.4h0M636.3 503.7h0M597.5 515.3h0M559.2 548.7h0M661.2 482.6h0M627.4 503.6h0M504.8 603.1h0M575.9 550.0h0M637.8 498.4h0M639.3 490.6h0M597.7 530.5h0M523.4 591.7h0M697.8 446.7h0M611.6 509.6h0M646.9 490.1h0M706.2 437.0h0M483.8 621.6h0M502.7 603.3h0M671.4 469.6h0M500.9 611.2h0M475.0 633.5h0M737.0 412.0h0M484.3 621.7h0M706.9 440.4h0M737.8 411.4h0M571.0 536.2h0M638.4 490.3h0M507.4 613.0h0M739.2 404.0h0M714.8 431.2h0M554.1 570.6h0M488.7 611.7h0M683.4 459.0h0M740.7 404.4h0M513.6 601.5h0M712.0 428.0h0M707.3 440.3h0M526.6 581.9h0M519.5 588.7h0M529.6 591.4h0M547.1 568.2h0M584.9 536.4h0M528.4 586.1h0M564.2 566.9h0M627.1 502.9h0M635.4 500.0h0M740.2 403.8h0M516.1 601.8h0M713.0 427.7h0M537.3 577.7h0M521.1 577.5h0M715.9 437.4h0M624.6 500.6h0M663.3 478.4h0M718.8 434.6h0M676.9 457.0h0M675.5 461.2h0M560.5 553.0h0M562.9 567.0h0M611.9 524.7h0M575.6 543.3h0M526.1 592.5h0M666.8 463.8h0M677.6 452.7h0M720.8 427.8h0M649.3 486.2h0M611.5 517.3h0M570.3 553.0h0M581.4 542.3h0M696.5 449.0h0M670.2 466.5h0M500.6 610.6h0M634.8 501.7h0M715.8 433.0h0M703.5 445.4h0M575.1 547.8h0M694.6 445.8h0M695.4 435.5h0M645.6 499.9h0M714.5 440.9h0M511.7 600.0h0M726.6 422.0h0M702.6 442.6h0M576.2 534.9h0M695.0 460.3h0M609.2 520.3h0M691.1 460.1h0M561.2 560.5h0M648.9 483.5h0M494.4 621.4h0M735.6 408.5h0M668.9 475.7h0M721.3 433.0h0M656.1 491.4h0M659.2 482.8h0M719.0 433.0h0M740.3 405.8h0M577.6 554.8h0M551.7 565.2h0M674.0 460.9h0M603.7 525.4h0M741.4 405.2h0M627.0 509.1h0M500.3 606.9h0M484.6 623.8h0M669.5 456.2h0M566.7 555.9h0M547.9 571.4h0M654.6 479.5h0M538.9 580.2h0M574.1 549.3h0M573.9 546.2h0M681.5 454.5h0M669.6 473.5h0M722.1 425.6h0M548.2 570.4h0M740.6 406.2h0M616.8 507.8h0M569.2 549.7h0M727.0 420.2h0M515.2 586.8h0M735.5 419.7h0M473.9 622.8h0M513.8 594.9h0M623.8 517.1h0M545.0 571.3h0M674.7 474.5h0M633.4 500.2h0M545.5 583.4h0M592.3 528.7h0M477.9 631.6h0M713.4 423.2h0M487.5 623.4h0M558.3 560.7h0M722.3 434.0h0M613.2 516.8h0M620.0 510.1h0M647.1 485.0h0M654.7 466.2h0M554.8 554.1h0M502.0 603.5h0M641.6 494.8h0M600.6 528.1h0M639.1 496.7h0M734.3 420.6h0M624.8 502.1h0M525.4 588.5h0M561.9 554.9h0M711.6 436.2h0M541.7 572.5h0M549.6 557.6h0M727.2 419.3h0M599.3 521.4h0M660.8 482.2h0M726.0 423.3h0M706.2 441.5h0M476.6 626.0h0M607.2 518.8h0M660.0 481.6h0M508.3 600.3h0M519.9 591.9h0M687.5 464.5h0M672.7 467.0h0M735.5 407.3h0M489.3 622.4h0M482.7 617.7h0M738.5 407.6h0M663.0 473.6h0M497.1 609.0h0M654.4 486.9h0M645.4 484.5h0M662.8 483.9h0M700.8 450.4h0M668.8 466.4h0M625.2 512.6h0M567.9 540.4h0M524.5 586.6h0M736.6 407.9h0M590.3 528.2h0M546.4 572.6h0M648.6 486.1h0M653.8 479.0h0M633.4 498.8h0M705.7 429.4h0M633.6 491.9h0M574.7 545.6h0M493.7 607.3h0M504.2 604.9h0M603.5 518.4h0M542.0 572.9h0M511.3 600.8h0M700.5 449.4h0M597.3 532.9h0M669.7 468.7h0M702.0 439.6h0M491.5 626.7h0M732.7 418.8h0M620.6 505.7h0M561.7 558.7h0M607.2 527.4h0M535.1 585.6h0M557.0 551.5h0M642.5 501.8h0M525.1 590.0h0M591.7 528.1h0M554.3 575.7h0M681.9 455.0h0M541.2 583.8h0M667.2 464.9h0M468.9 621.4h0M594.7 538.6h0M600.7 526.3h0M581.0 539.8h0M614.6 518.1h0M700.1 440.7h0M616.1 517.7h0M695.8 451.2h0M672.8 471.9h0M525.1 588.5h0M551.4 563.6h0M512.0 593.7h0M684.1 458.2h0M500.6 614.2h0M706.2 442.0h0M624.3 509.8h0M590.0 537.1h0M623.1 503.8h0M618.4 512.2h0M640.0 493.0h0M619.2 510.5h0M555.1 563.9h0M717.5 432.4h0M637.3 491.2h0M742.5 408.9h0M507.5 603.5h0M730.9 424.9h0M644.2 494.8h0M658.4 482.5h0M726.0 419.0h0M493.1 623.9h0M521.2 587.5h0M626.7 504.0h0M554.7 568.0h0M478.3 631.4h0M549.4 565.2h0M659.1 476.8h0M663.7 487.1h0M480.1 629.2h0M562.3 563.1h0M705.2 440.4h0M651.4 488.6h0M638.9 491.8h0M737.9 415.4h0M561.9 559.6h0M491.3 609.9h0M641.3 494.4h0M647.6 490.9h0M620.8 509.4h0M734.9 422.6h0M662.0 486.1h0M490.3 617.4h0M649.9 489.6h0M493.4 622.1h0M624.2 501.0h0M606.5 517.1h0M472.1 631.3h0M526.7 590.2h0M586.3 539.3h0M560.3 562.8h0M505.7 599.9h0M644.2 499.8h0M727.5 419.7h0M482.4 623.8h0M685.1 464.1h0M566.0 551.0h0M546.6 572.7h0M682.4 447.6h0M721.8 419.1h0M738.8 412.1h0M726.7 424.3h0M507.5 606.8h0M476.7 632.2h0M674.4 463.8h0M684.2 466.8h0M509.8 595.9h0M625.6 501.4h0M647.6 488.7h0M573.6 543.9h0M511.7 586.9h0M563.4 555.1h0M543.5 563.1h0M474.6 631.8h0M548.5 572.7h0M536.6 573.2h0M661.7 488.5h0M642.4 485.9h0M655.8 481.1h0M552.8 568.4h0M633.4 498.9h0M504.3 605.2h0M676.2 456.5h0M725.0 418.4h0M679.6 460.3h0M671.7 469.5h0M630.4 508.0h0M678.9 460.9h0M605.9 538.1h0M539.1 571.3h0M683.9 458.0h0M617.6 522.9h0M721.8 422.7h0M634.3 504.4h0M618.6 514.6h0M486.8 629.3h0M534.0 585.4h0M667.0 470.9h0M591.5 534.4h0M722.8 423.6h0M641.6 497.5h0M542.0 571.3h0M542.6 582.6h0M552.7 569.1h0M538.1 592.9h0M617.5 514.5h0M496.2 615.3h0M629.9 503.6h0M586.9 534.2h0M707.1 430.5h0M717.6 437.0h0M553.3 566.7h0M529.0 596.3h0M581.2 531.1h0M605.7 514.1h0M664.0 471.4h0M732.4 410.2h0M712.8 428.5h0M581.7 545.8h0M619.1 506.7h0M626.4 497.7h0M708.7 432.3h0M500.8 609.2h0M695.1 451.2h0M536.5 565.2h0M500.4 607.6h0M736.7 410.4h0M570.3 559.7h0M673.4 462.3h0M569.9 550.0h0M553.3 570.3h0M615.8 505.7h0M535.2 580.2h0M536.5 575.4h0M484.6 619.8h0M668.6 475.1h0M721.6 424.6h0M469.9 627.4h0M553.3 571.7h0M711.6 441.2h0M638.3 501.4h0M504.9 601.3h0M538.4 580.1h0M527.4 584.9h0M478.3 621.5h0M509.7 607.3h0M502.6 599.3h0M608.8 519.4h0M681.6 461.0h0M608.4 510.3h0M649.1 483.7h0M716.1 439.1h0M684.7 457.8h0M500.9 612.6h0M478.5 625.8h0M726.1 425.4h0M543.7 575.1h0M703.9 435.3h0M523.8 599.0h0M710.3 434.2h0M592.3 534.6h0M478.9 625.1h0M747.2 418.5h0M506.1 609.4h0M479.3 628.5h0M685.0 446.8h0M564.1 563.8h0M483.2 628.9h0M475.6 630.5h0M581.6 540.0h0M502.1 610.9h0M567.3 553.1h0M663.8 485.0h0M725.6 412.9h0M552.6 567.8h0M628.1 503.0h0M655.3 464.3h0M689.9 456.7h0M609.9 526.5h0M690.3 459.0h0M592.5 522.6h0M674.8 466.7h0M647.0 493.3h0M598.4 528.4h0M708.8 437.4h0M553.9 558.7h0M567.4 549.2h0M602.1 522.8h0M487.3 617.4h0M635.4 503.0h0M481.5 631.0h0M706.4 436.7h0M565.0 552.4h0M713.0 432.6h0M511.7 598.1h0M664.9 469.6h0M634.7 505.7h0M627.2 506.7h0M720.9 432.2h0M500.1 619.0h0M719.9 424.5h0M548.7 570.3h0M539.7 574.1h0M656.3 476.6h0M586.9 543.2h0M504.4 597.5h0M622.8 506.2h0M707.2 432.2h0M470.2 625.6h0M582.7 544.0h0M522.2 594.4h0M664.2 473.0h0M682.8 451.9h0M507.4 597.0h0M707.6 450.5h0M552.6 557.2h0M677.4 466.2h0M505.6 602.1h0M604.6 531.3h0M651.3 490.4h0M605.4 520.1h0M665.0 484.9h0M680.5 455.7h0M725.9 426.0h0M647.7 486.0h0M519.3 592.5h0M682.7 462.5h0M583.2 532.5h0M654.9 466.9h0M657.5 475.6h0M718.3 439.7h0M631.9 499.9h0M534.8 581.8h0M579.6 538.0h0M640.6 493.2h0M620.6 496.2h0M522.6 586.7h0M694.4 445.5h0M630.6 503.9h0M631.6 506.7h0M527.8 586.8h0M605.0 521.5h0M543.5 570.5h0M562.4 556.5h0M565.6 556.8h0M636.6 496.5h0M574.6 550.5h0M719.5 434.1h0M678.9 467.6h0M737.0 410.4h0M636.1 492.6h0M589.5 536.8h0M579.1 544.9h0M480.6 622.7h0M664.0 475.2h0M548.6 550.2h0M477.7 627.1h0M721.6 429.5h0M541.1 585.7h0M496.7 610.9h0M669.7 463.2h0M682.1 459.9h0M678.1 454.9h0M641.4 496.8h0M479.2 627.0h0M617.9 513.4h0M735.1 419.3h0M600.1 536.0h0M555.2 569.3h0M629.4 514.9h0M641.6 487.8h0M553.2 566.3h0M683.2 459.3h0M702.6 446.0h0M476.2 624.3h0M501.3 612.7h0M602.9 513.8h0M485.2 616.0h0M527.0 590.9h0M709.9 437.5h0M741.5 405.9h0M697.4 438.9h0M518.6 598.2h0M692.3 454.3h0M622.5 492.3h0M739.7 405.7h0M546.0 565.9h0M711.3 423.2h0M475.2 627.7h0M533.4 584.2h0M722.8 435.8h0M608.0 514.9h0M531.6 589.6h0M660.4 473.1h0M564.1 568.2h0M633.7 502.3h0M584.9 539.3h0M496.8 618.5h0M490.6 619.9h0M722.7 430.5h0M707.8 437.2h0M600.2 534.5h0M537.8 579.5h0M504.5 598.2h0M728.2 412.5h0M613.1 504.1h0M473.0 629.7h0M643.4 493.9h0M677.1 461.5h0M552.4 561.7h0M737.4 411.3h0M484.3 614.9h0M503.9 609.6h0M636.9 498.0h0M602.2 534.5h0M573.6 551.1h0M657.6 471.7h0M724.3 423.7h0M703.8 436.7h0M668.4 468.0h0M547.7 564.1h0M556.7 567.3h0M518.8 590.8h0M708.1 433.5h0M652.5 476.4h0M624.2 498.0h0M492.2 618.4h0M707.1 447.6h0M512.9 602.1h0M606.5 513.2h0M729.1 426.0h0M573.0 557.3h0M600.3 534.8h0M732.4 425.0h0M550.6 563.1h0M597.2 533.9h0M577.4 549.2h0M579.2 536.9h0M586.3 532.3h0M738.7 406.8h0M693.5 454.9h0M487.1 628.7h0M636.6 494.6h0M470.9 624.7h0M494.0 616.1h0M631.4 502.8h0M650.9 506.1h0M513.6 588.5h0M582.1 542.8h0M574.9 558.0h0M663.7 475.0h0M587.8 540.5h0M574.6 543.9h0M690.1 439.3h0M656.3 485.8h0M501.6 607.2h0M620.0 512.9h0M534.7 584.4h0M543.9 570.3h0M633.9 489.1h0M706.0 436.8h0M570.6 553.5h0M612.2 513.5h0M492.5 614.3h0M680.2 456.0h0M520.4 595.4h0M579.8 542.6h0M541.8 565.0h0M613.1 516.0h0M550.4 561.7h0M599.3 527.5h0M591.6 533.3h0M641.0 498.0h0M650.7 467.1h0M612.8 508.7h0M670.5 461.6h0M712.6 426.8h0M548.4 544.1h0M523.5 571.8h0M506.8 591.6h0M489.1 599.5h0M480.8 607.2h0M531.8 600.9h0M504.7 625.9h0M573.4 528.7h0M591.1 506.2h0M586.9 513.5h0M614.0 503.1h0M690.0 433.6h0M649.0 469.8h0M605.2 482.2h0M613.4 502.9h0M702.4 474.0h0M732.3 437.8h0M738.1 444.0h0M748.9 403.6h0M751.0 411.9h0" stroke="#0000ff" stroke-width="9" stroke-linecap="round" fill="none"/></g>
<line x1="112.4" y1="311.0" x2="371.8" y2="51.5" stroke="#ff6ea6" stroke-width="2.2"/>
<line x1="472.7" y1="251.5" x2="736.1" y2="50.1" stroke="#ff6ea6" stroke-width="2.2"/>
<line x1="130.6" y1="640.3" x2="372.1" y2="402.7" stroke="#ff6ea6" stroke-width="2.2"/>
<line x1="472.8" y1="633.8" x2="748.6" y2="414.0" stroke="#ff6ea6" stroke-width="2.2"/>
<text x="250.00" y="279.90" font-size="32">R²: 0.994</text>
<text x="168.25" y="314.60" font-size="32">SMAPE: 0.0012</text>
<text x="616.85" y="279.30" font-size="32">R²: 0.768</text>
<text x="531.60" y="314.30" font-size="32">SMAPE: 0.0879</text>
<text x="250.95" y="630.00" font-size="32">R²: 0.999</text>
<text x="175.65" y="663.50" font-size="32">SMAPE: 0.017</text>
<text x="625.85" y="630.10" font-size="32">R²: 0.985</text>
<text x="541.65" y="664.30" font-size="32">SMAPE: 0.0982</text>
<text x="108.4" y="62.5" font-size="32">log<tspan font-size="17.5" dx="0.8" dy="11">10</tspan><tspan dy="-11"> [K(Pa)]</tspan></text>
<text x="468.6" y="62.1" font-size="32">log<tspan font-size="17.5" dx="0.8" dy="11">10</tspan><tspan dy="-11"> [G(Pa)]</tspan></text>
<text x="105.2" y="416.2" font-size="32">ρ (kg/m<tspan font-size="18" dx="0.5" dy="-10">3</tspan><tspan dy="10">)</tspan></text>
<g fill="#000"><path d="M476.2,399.8 L480.1,399.4 L480.1,418.8 L476.2,418.8 Z"/><path d="M489.7,400.5 L493.2,400.5 L493.4,428.6 L490.2,428.6 Z"/></g>
<path d="M471.6,402.6 C472.2,399.3 474.2,397.4 476.4,397.4 C478.6,397.4 479.6,399 480,401" stroke="#000" stroke-width="1.9" fill="none"/>
<path d="M480,402.8 C482.3,399.4 485.2,397.4 488,397.4 C490.6,397.4 491.6,399.2 491.5,402" stroke="#000" stroke-width="2.3" fill="none"/>
</svg></body></html>
